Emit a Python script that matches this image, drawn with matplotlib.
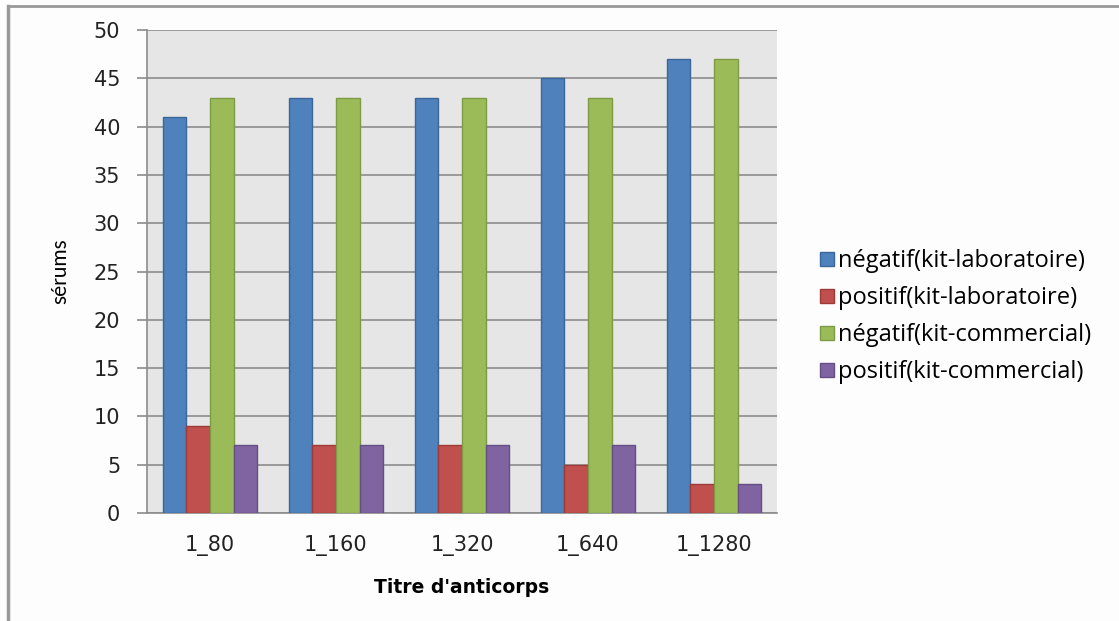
import numpy as np
import matplotlib
matplotlib.use('Agg')
import matplotlib.pyplot as plt
from matplotlib.lines import Line2D

# %% data

titres = ['1_80', '1_160', '1_320', '1_640', '1_1280']
neg_labo = [41, 43, 43, 45, 47]
pos_labo = [9, 7, 7, 5, 3]
neg_comm = [43, 43, 43, 43, 47]
pos_comm = [7, 7, 7, 7, 3]

series = [neg_labo, pos_labo, neg_comm, pos_comm]
labels = ['négatif(kit-laboratoire)', 'positif(kit-laboratoire)',
          'négatif(kit-commercial)', 'positif(kit-commercial)']
colors = ['#4f81bd', '#c0504d', '#9bbb59', '#8064a2']
edges = ['#3b6699', '#9c3b38', '#7d9a44', '#654e85']

# %% plot

fig = plt.figure(figsize=(11.19, 6.21), dpi=100)
fig.patch.set_facecolor('#fdfdfd')
ax = fig.add_axes([147/1119, 108/621, 630/1119, 483/621])
ax.set_facecolor('#e6e6e6')

x = np.arange(len(titres))
w = 0.187
for i, (vals, lab) in enumerate(zip(series, labels)):
    ax.bar(x + (i - 1.5)*w, vals, w, color=colors[i], edgecolor=edges[i],
           linewidth=1, label=lab, zorder=3)

ax.set_xlim(-0.5, len(titres) - 0.5)
ax.set_ylim(0, 50)
ax.set_yticks(range(0, 51, 5))
ax.grid(axis='y', color='#8c8c8c', linewidth=1.2, zorder=0)
ax.set_axisbelow(True)

for s in ['top', 'right']:
    ax.spines[s].set_visible(False)
ax.spines['left'].set_color('#8c8c8c')
ax.spines['bottom'].set_color('#8c8c8c')
ax.spines['left'].set_linewidth(1.2)
ax.spines['bottom'].set_linewidth(1.2)

ax.set_xticks(x)
ax.set_xticklabels(titres)
ax.tick_params(axis='x', length=0, pad=16, labelsize=15, colors='#222222')
ax.tick_params(axis='y', length=7.2, width=1.2, color='#8c8c8c', pad=12,
               labelsize=15, labelcolor='#222222')

ax.set_ylabel('sérums', fontsize=15, family='Lato', labelpad=17)
ax.set_xlabel("Titre d'anticorps", fontsize=13.5, fontweight='bold', labelpad=16)

handles = [Line2D([], [], marker='s', linestyle='none', markersize=9.5,
                  markerfacecolor=colors[i], markeredgecolor=edges[i])
           for i in range(4)]
fig.legend(handles, labels, loc='center left', bbox_to_anchor=(0.714, 0.490),
           frameon=False, prop={'family': 'Open Sans', 'size': 17},
           handletextpad=0.21, labelspacing=0.55, handlelength=0.55)

# figure border
fig.add_artist(Line2D([8/1119, 8/1119], [0, 1 - 6/621], color='#999999', linewidth=2.5))
fig.add_artist(Line2D([8/1119, 1], [1 - 6/621, 1 - 6/621], color='#999999', linewidth=2))

plt.savefig('out.png', dpi=100, facecolor=fig.get_facecolor())
